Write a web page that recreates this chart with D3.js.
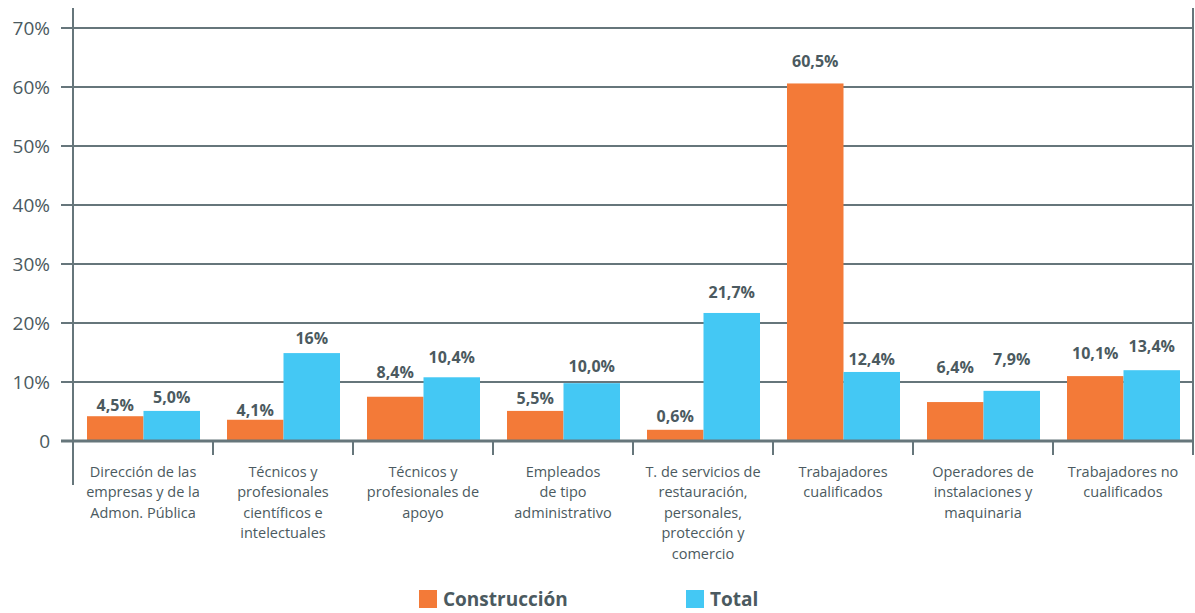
<!DOCTYPE html>
<html>
<head>
<meta charset="utf-8">
<script src="https://cdn.jsdelivr.net/npm/d3@7"></script>
<style>
  body { margin: 0; background: #fff; }
  text { font-family: "Open Sans", "Noto Sans", sans-serif; }
</style>
</head>
<body>
<div id="chart"></div>
<script>
// categories (line breaks as in the original)
var categories = [
  ["Dirección de las", "empresas y de la", "Admon. Pública"],
  ["Técnicos y", "profesionales", "científicos e", "intelectuales"],
  ["Técnicos y", "profesionales de", "apoyo"],
  ["Empleados", "de tipo", "administrativo"],
  ["T. de servicios de", "restauración,", "personales,", "protección y", "comercio"],
  ["Trabajadores", "cualificados"],
  ["Operadores de", "instalaciones y", "maquinaria"],
  ["Trabajadores no", "cualificados"]
];
var series = ["Construcción", "Total"];

// bar heights as drawn (%)
var construccion = [4.2, 3.6, 7.5, 5.1, 1.9, 60.6, 6.6, 11.0];
var total        = [5.1, 14.9, 10.8, 9.8, 21.7, 11.7, 8.5, 12.0];

// value labels as printed
var construccionLabels = ["4,5%", "4,1%", "8,4%", "5,5%", "0,6%", "60,5%", "6,4%", "10,1%"];
var totalLabels        = ["5,0%", "16%", "10,4%", "10,0%", "21,7%", "12,4%", "7,9%", "13,4%"];

var yTicks = [0, 10, 20, 30, 40, 50, 60, 70];
var yTickLabels = ["0", "10%", "20%", "30%", "40%", "50%", "60%", "70%"];

// label lift above bar top (px), as placed in the original
var liftC = [11, 10, 25, 13, 14, 22, 35, 23];
var liftT = [14, 15, 20, 17, 21, 13, 32, 24];

var colors = { "Construcción": "#f37a38", "Total": "#44c8f4" };
var ink = "#4b5a60";
var rule = "#66767b";

var width = 1195, height = 613;
var plot = { left: 73, right: 1193, top: 28, bottom: 441 };

var svg = d3.select("#chart").append("svg")
  .attr("width", width)
  .attr("height", height);

var x = d3.scaleBand()
  .domain(d3.range(categories.length))
  .range([plot.left, plot.right]);

var xSub = d3.scaleBand()
  .domain(series)
  .range([14, x.bandwidth() - 13]);

var y = d3.scaleLinear()
  .domain([0, 70])
  .range([plot.bottom, plot.top]);

// gridlines
svg.append("g")
  .selectAll("line")
  .data(yTicks.filter(function(d) { return d > 0; }))
  .enter().append("line")
    .attr("x1", 61)
    .attr("x2", plot.right)
    .attr("y1", function(d) { return y(d); })
    .attr("y2", function(d) { return y(d); })
    .attr("stroke", rule)
    .attr("stroke-width", 2);

// y labels
svg.append("g")
  .selectAll("text")
  .data(yTicks)
  .enter().append("text")
    .attr("x", 50)
    .attr("y", function(d) { return y(d); })
    .attr("dy", "0.36em")
    .attr("text-anchor", "end")
    .attr("font-size", 19)
    .attr("fill", ink)
    .text(function(d, i) { return yTickLabels[i]; });

// bars
var rows = categories.map(function(c, i) {
  return [
    { i: i, s: "Construcción", v: construccion[i], label: construccionLabels[i], lift: liftC[i] },
    { i: i, s: "Total", v: total[i], label: totalLabels[i], lift: liftT[i] }
  ];
});

var groups = svg.append("g")
  .selectAll("g")
  .data(rows)
  .enter().append("g")
    .attr("transform", function(d, i) { return "translate(" + x(i) + ",0)"; });

groups.selectAll("rect")
  .data(function(d) { return d; })
  .enter().append("rect")
    .attr("x", function(d) { return xSub(d.s); })
    .attr("y", function(d) { return y(d.v); })
    .attr("width", xSub.bandwidth())
    .attr("height", function(d) { return y(0) - y(d.v); })
    .attr("fill", function(d) { return colors[d.s]; });

groups.selectAll("text")
  .data(function(d) { return d; })
  .enter().append("text")
    .attr("x", function(d) { return xSub(d.s) + xSub.bandwidth() / 2; })
    .attr("y", function(d) { return y(d.v) - d.lift; })
    .attr("dy", "0.36em")
    .attr("text-anchor", "middle")
    .attr("font-size", 16)
    .attr("font-weight", "bold")
    .attr("fill", ink)
    .text(function(d) { return d.label; });

// baseline, axis lines and separators
svg.append("line")
  .attr("x1", 61).attr("x2", plot.right)
  .attr("y1", y(0)).attr("y2", y(0))
  .attr("stroke", rule).attr("stroke-width", 3);

svg.append("line")
  .attr("x1", plot.left).attr("x2", plot.left)
  .attr("y1", 8).attr("y2", 485)
  .attr("stroke", rule).attr("stroke-width", 2);

svg.append("line")
  .attr("x1", plot.right).attr("x2", plot.right)
  .attr("y1", 8).attr("y2", 455)
  .attr("stroke", rule).attr("stroke-width", 2);

svg.append("g")
  .selectAll("line")
  .data(d3.range(1, categories.length))
  .enter().append("line")
    .attr("x1", function(d) { return x(d); })
    .attr("x2", function(d) { return x(d); })
    .attr("y1", y(0))
    .attr("y2", 455)
    .attr("stroke", rule)
    .attr("stroke-width", 2);

// category labels
svg.append("g")
  .selectAll("text")
  .data(categories)
  .enter().append("text")
    .attr("text-anchor", "middle")
    .attr("font-size", 14.5)
    .attr("fill", ink)
    .each(function(lines, i) {
      var t = d3.select(this);
      lines.forEach(function(line, k) {
        t.append("tspan")
          .attr("x", x(i) + x.bandwidth() / 2)
          .attr("y", 477 + k * 20.4)
          .text(line);
      });
    });

// legend
var legend = svg.append("g")
  .selectAll("g")
  .data(series)
  .enter().append("g")
    .attr("transform", function(d, i) { return "translate(" + (i === 0 ? 419 : 686) + ",590)"; });

legend.append("rect")
  .attr("width", 18).attr("height", 18)
  .attr("fill", function(d) { return colors[d]; });

legend.append("text")
  .attr("x", 24)
  .attr("y", 16)
  .attr("font-size", 19)
  .attr("font-weight", "bold")
  .attr("fill", ink)
  .text(function(d) { return d; });
</script>
</body>
</html>
